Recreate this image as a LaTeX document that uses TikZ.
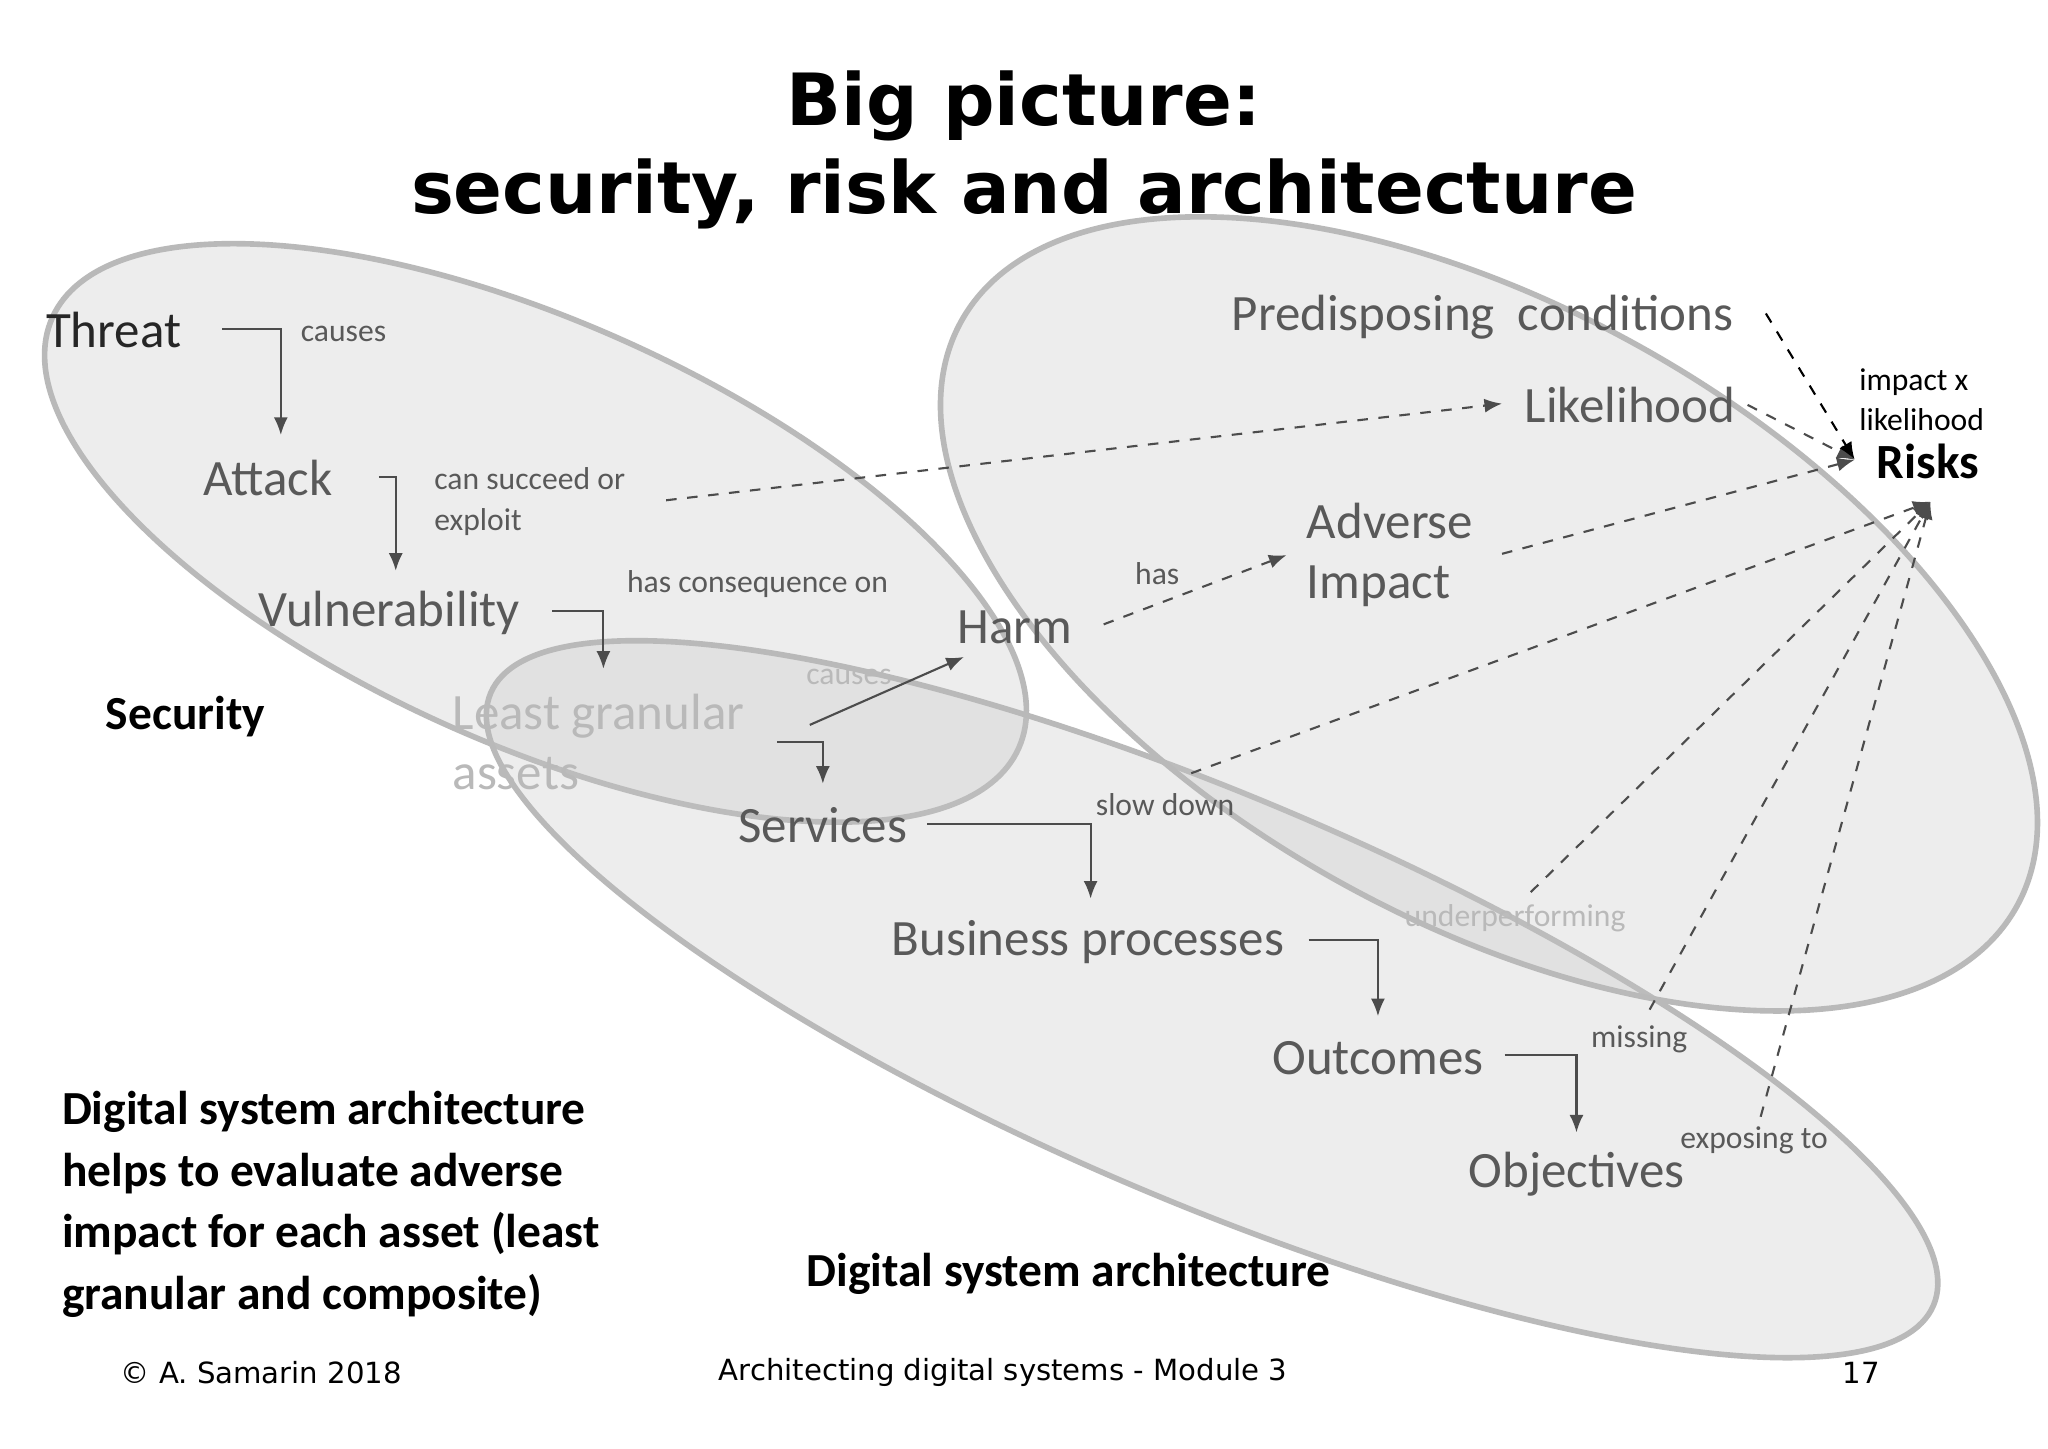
\documentclass[tikz,border=0pt]{standalone}
\usepackage{fontspec}
\setmainfont{Carlito}
\newfontfamily\verd{DejaVu Sans}
\usetikzlibrary{arrows.meta}
\begin{document}
\begin{tikzpicture}[x=0.01306cm,y=-0.01306cm,
  ell/.style={draw=gray!55,line width=1.6pt,fill=gray!45,fill opacity=0.3},
  big/.style={text=gray!70!black,font=\fontsize{14.5}{17}\selectfont,inner sep=0pt},
  small/.style={text=gray!70!black,font=\fontsize{9}{11.5}\selectfont,inner sep=0pt},
  bold/.style={font=\fontsize{13.5}{17.5}\selectfont\bfseries,inner sep=0pt},
  el/.style={draw=gray!60!black,-{Latex[length=5pt,width=4pt]},line width=0.6pt},
  da/.style={draw=gray!60!black,dashed,-{Latex[length=5pt,width=4pt]},line width=0.6pt}]
\useasboundingbox (0,0) rectangle (1568,1109);
\fill[white] (0,0) rectangle (1568,1109);
\draw[ell,rotate around={-24:(410,408)}] (410,408) ellipse (405 and 162);
\draw[ell,rotate around={-23:(928,765)}] (928,765) ellipse (600 and 155);
\draw[ell,rotate around={-29:(1140,470)}] (1140,470) ellipse (462 and 235);
\node[font=\verd\fontsize{20.5}{25}\selectfont\bfseries,align=center] (title) at (784,115) {Big picture:\\security, risk and architecture};
\node[big,text=gray!30!black] (threat) at (87,253) {Threat};
\node[big] (attack) at (205,366) {Attack};
\node[big] (vuln) at (298,469) {Vulnerability};
\node[big,anchor=west,align=left,text=gray!55] (least) at (346,568) {Least granular\\assets};
\node[big] (serv) at (630,632) {Services};
\node[big] (bp) at (833,721) {Business processes};
\node[big] (out) at (1055,810) {Outcomes};
\node[big] (obj) at (1207,899) {Objectives};
\node[big] (harm) at (777,480) {Harm};
\node[big,anchor=west,align=left] (adv) at (1000,425) {Adverse\\Impact};
\node[big] (lik) at (1248,310) {Likelihood};
\node[big] (pred) at (1135,243) {Predisposing\ \ conditions};
\node[font=\fontsize{14}{16}\selectfont\bfseries,inner sep=0pt] (risks) at (1476,353) {Risks};
\node[anchor=west,align=left,font=\fontsize{9}{11.5}\selectfont,inner sep=0pt] (ixl) at (1423,306) {impact x\\likelihood};
\node[small] (l1) at (263,256) {causes};
\node[small,anchor=west,align=left] (l2) at (332,384) {can succeed or\\exploit};
\node[small] (l3) at (580,447) {has consequence on};
\node[small,text=gray!55] (l4) at (650,518) {causes};
\node[small] (l5) at (886,439) {has};
\node[small] (l6) at (892,616) {slow down};
\node[small,text=gray!55] (l7) at (1160,703) {underperforming};
\node[small] (l8) at (1255,796) {missing};
\node[small] (l9) at (1343,873) {exposing to};
\node[bold] (sec) at (142,549) {Security};
\node[bold] (dsa) at (818,975) {Digital system architecture};
\node[bold,anchor=west,align=left] (txt) at (47,922) {Digital system architecture\\helps to evaluate adverse\\impact for each asset (least\\granular and composite)};
\node[font=\verd\fontsize{8.3}{10}\selectfont] (f1) at (200,1051) {© A. Samarin 2018};
\node[font=\verd\fontsize{8.3}{10}\selectfont] (f2) at (768,1051) {Architecting digital systems - Module 3};
\node[font=\verd\fontsize{8.3}{10}\selectfont] (f3) at (1425,1051) {17};
\coordinate (a1) at (170,252); \coordinate (b1) at (215,333);
\coordinate (a2) at (290,365); \coordinate (b2) at (303,437);
\coordinate (a3) at (423,468); \coordinate (b3) at (462,512);
\coordinate (a4) at (595,568); \coordinate (b4) at (630,600);
\coordinate (a5) at (710,631); \coordinate (b5) at (835,688);
\coordinate (a6) at (1002,720); \coordinate (b6) at (1055,778);
\coordinate (a7) at (1152,808); \coordinate (b7) at (1207,867);
\foreach \i in {1,...,7} \draw[el] (a\i) -| (b\i);
\coordinate (d1) at (510,383); \coordinate (e1) at (1150,309);
\coordinate (d2) at (845,478); \coordinate (e2) at (985,425);
\coordinate (d3) at (620,555); \coordinate (e3) at (738,503);
\coordinate (d4) at (1150,424); \coordinate (r1) at (1420,352);
\coordinate (d5) at (1338,310);
\coordinate (d6) at (1352,240);
\coordinate (r2) at (1478,384);
\coordinate (g1) at (912,592); \coordinate (g2) at (1172,683);
\coordinate (g3) at (1263,773); \coordinate (g4) at (1348,855);
\draw[da] (d1) -- (e1);
\draw[da] (d2) -- (e2);
\draw[el] (d3) -- (e3);
\draw[da] (d4) -- (r1);
\draw[da] (d5) -- (r1);
\draw[da,draw=black] (d6) -- (r1);
\foreach \g in {g1,g2,g3,g4} \draw[da] (\g) -- (r2);
\end{tikzpicture}
\end{document}
